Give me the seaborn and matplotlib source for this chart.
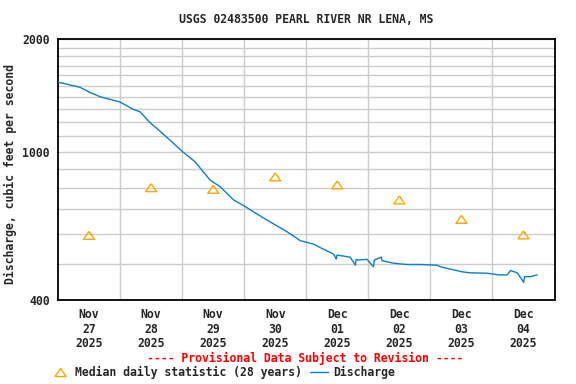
import numpy as np
import pandas as pd
import matplotlib
matplotlib.use("Agg")
import matplotlib.pyplot as plt
import matplotlib.dates as mdates
from matplotlib.ticker import FixedLocator, NullFormatter, FixedFormatter
from matplotlib.lines import Line2D
import seaborn as sns

# ---- data ----
start = "2025-11-27 00:00"
discharge_hours = [0.1, 2.0, 5.9, 8.5, 12.4, 16.3, 24.0, 29.1, 31.7, 35.6, 38.2,
                   42.1, 48.2, 53.0, 58.8, 62.7, 67.9, 72.4, 78.2, 83.3, 88.5,
                   93.7, 98.8, 102.7, 106.6, 107.6, 107.9, 113.0, 115.0, 115.3,
                   116.2, 119.5, 122.0, 122.3, 125.0, 125.3, 129.8, 135.0, 140.1,
                   146.6, 147.9, 151.7, 156.3, 159.5, 166.0, 170.4, 173.7, 175.0,
                   177.6, 180.1, 180.4, 182.7, 185.3]
discharge_cfs = [1533, 1524, 1502, 1487, 1440, 1403, 1358, 1298, 1279, 1195, 1154,
                 1092, 999, 939, 839, 805, 742, 712, 672, 640, 610,
                 577, 565, 547, 531, 515, 528, 521, 496, 514,
                 512, 514, 491, 512, 521, 510, 502, 498, 498,
                 496, 491, 484, 476, 473, 472, 467, 467, 480,
                 473, 446, 462, 462, 467]

median_days = ["2025-11-27", "2025-11-28", "2025-11-29", "2025-11-30",
               "2025-12-01", "2025-12-02", "2025-12-03", "2025-12-04"]
median_cfs = [596, 800, 792, 855, 814, 742, 658, 598]

tick_month = ["Nov", "Nov", "Nov", "Nov", "Dec", "Dec", "Dec", "Dec"]
tick_day = ["27", "28", "29", "30", "01", "02", "03", "04"]
tick_year = ["2025"] * 8

y_major = [400, 1000, 2000]
y_minor = [500, 600, 700, 800, 900, 1100, 1200, 1300, 1400, 1500, 1600, 1700, 1800, 1900]

title = "USGS 02483500 PEARL RIVER NR LENA, MS"
ylabel = "Discharge, cubic feet per second"
provisional = "---- Provisional Data Subject to Revision ----"
legend_labels = ["Median daily statistic (28 years)", "Discharge"]

# ---- frames ----
t0 = pd.Timestamp(start)
df_q = pd.DataFrame({"time": t0 + pd.to_timedelta(discharge_hours, unit="h"),
                     "cfs": discharge_cfs})
df_m = pd.DataFrame({"time": pd.to_datetime(median_days) + pd.Timedelta(hours=12),
                     "cfs": median_cfs})

sns.set_style("white")
plt.rcParams["font.family"] = ["DejaVu Sans Mono"]
plt.rcParams["font.weight"] = "bold"
FS = 8.3

fig = plt.figure(figsize=(5.76, 3.84), dpi=100)
ax = fig.add_axes([58 / 576, 1 - 300 / 384, (554.5 - 58) / 576, (300 - 39.3) / 384])

blue = "#0a7fcc"
orange = "#ffa500"

sns.lineplot(data=df_q, x="time", y="cfs", ax=ax, color=blue, linewidth=1.0,
             errorbar=None, legend=False, zorder=3)
tri = [(0, 0.72), (-1, -0.72), (1, -0.72), (0, 0.72)]
sns.scatterplot(data=df_m, x="time", y="cfs", ax=ax, marker=tri, s=62,
                facecolor="none", edgecolor=orange, linewidth=1.0,
                legend=False, zorder=4)

ax.set_yscale("log")
ax.set_ylim(400, 2000)
ax.yaxis.set_major_locator(FixedLocator(y_major))
ax.yaxis.set_major_formatter(FixedFormatter([str(v) for v in y_major]))
ax.yaxis.set_minor_locator(FixedLocator(y_minor))
ax.yaxis.set_minor_formatter(NullFormatter())

ax.set_xlim(pd.Timestamp("2025-11-27"), pd.Timestamp("2025-12-05"))
days = pd.to_datetime(median_days)
ax.set_xticks(days + pd.Timedelta(hours=12))
ax.set_xticklabels([f"{m}\n{d}\n{y}" for m, d, y in zip(tick_month, tick_day, tick_year)],
                   fontsize=FS, fontweight="bold", linespacing=1.15)
ax.set_xticks(list(days[1:]), minor=True)

ax.grid(False)
ax.grid(True, which="minor", axis="both", color="#cccccc", linewidth=1.0)
ax.grid(True, which="major", axis="y", color="#cccccc", linewidth=1.0)
ax.tick_params(axis="both", which="both", length=0)
ax.tick_params(axis="y", labelsize=FS, pad=6)
ax.tick_params(axis="x", pad=6)
for lab in ax.get_yticklabels():
    lab.set_fontweight("bold")
for sp in ax.spines.values():
    sp.set_visible(True)
    sp.set_color("black")
    sp.set_linewidth(1.3)

ax.set_xlabel("")
ax.set_ylabel(ylabel, fontsize=FS, fontweight="bold")
ax.yaxis.set_label_coords((17 - 58) / (554.5 - 58), (300 - 174) / (300 - 39.3))

fig.text(306 / 576, 1 - 19.5 / 384, title, ha="center", va="center",
         fontsize=FS, fontweight="bold")
fig.text(305.5 / 576, 1 - 358.5 / 384, provisional, ha="center", va="center",
         fontsize=FS, fontweight="bold", color="red")

handles = [Line2D([], [], linestyle="none", marker=tri, markersize=8,
                  markerfacecolor="none", markeredgecolor=orange, markeredgewidth=1.0),
           Line2D([], [], color=blue, linewidth=1.0)]
fig.legend(handles, legend_labels, loc="center left",
           bbox_to_anchor=(51 / 576, 1 - 372.5 / 384),
           ncol=2, frameon=False, handlelength=1.55, handletextpad=0.52,
           columnspacing=0.7, borderpad=0, borderaxespad=0,
           prop={"weight": "bold", "size": FS, "family": "DejaVu Sans Mono"})

fig.savefig("out.png", dpi=100)
